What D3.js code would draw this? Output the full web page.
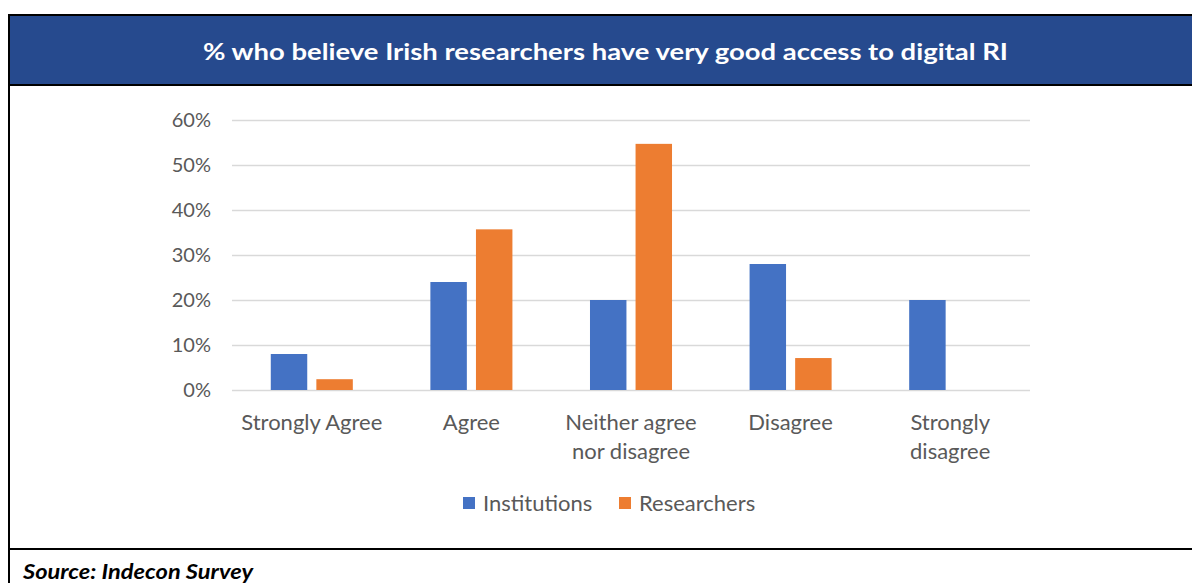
<!DOCTYPE html>
<html>
<head>
<meta charset="utf-8">
<script src="https://cdn.jsdelivr.net/npm/d3@7"></script>
<style>
html,body{margin:0;padding:0;background:#fff;}
svg{display:block;}
text{font-family:Lato,"Open Sans",sans-serif;}
</style>
</head>
<body>
<svg id="chart" width="1192" height="583"></svg>
<script>
const title = "% who believe Irish researchers have very good access to digital RI";
const source = "Source: Indecon Survey";
const categories = ["Strongly Agree", "Agree", "Neither agree nor disagree", "Disagree", "Strongly disagree"];
const categoryLines = [["Strongly Agree"], ["Agree"], ["Neither agree", "nor disagree"], ["Disagree"], ["Strongly", "disagree"]];
const seriesNames = ["Institutions", "Researchers"];
const institutions = [0.08, 0.24, 0.20, 0.28, 0.20];
const researchers = [0.024, 0.357, 0.547, 0.071, 0.0];
const yTicks = [0, 0.1, 0.2, 0.3, 0.4, 0.5, 0.6];
const colors = ["#4472C4", "#ED7D31"];

const svg = d3.select("#chart");

// frame
svg.append("rect").attr("x", 10).attr("y", 16).attr("width", 1182).attr("height", 68).attr("fill", "#264A8E");
svg.append("line").attr("x1", 8).attr("x2", 1192).attr("y1", 15).attr("y2", 15).attr("stroke", "#000").attr("stroke-width", 2);
svg.append("line").attr("x1", 8).attr("x2", 1192).attr("y1", 85).attr("y2", 85).attr("stroke", "#000").attr("stroke-width", 2);
svg.append("line").attr("x1", 8).attr("x2", 1192).attr("y1", 549).attr("y2", 549).attr("stroke", "#000").attr("stroke-width", 2);
svg.append("line").attr("x1", 9).attr("x2", 9).attr("y1", 14).attr("y2", 583).attr("stroke", "#000").attr("stroke-width", 2);

svg.append("text").attr("x", 605.5).attr("y", 60).attr("text-anchor", "middle")
  .attr("fill", "#fff").attr("font-weight", "bold").attr("font-size", 23)
  .attr("textLength", 805).attr("lengthAdjust", "spacingAndGlyphs")
  .text(title);

svg.append("text").attr("x", 23).attr("y", 579).attr("fill", "#000")
  .attr("font-weight", "bold").attr("font-style", "italic").attr("font-size", 20)
  .attr("textLength", 230).attr("lengthAdjust", "spacingAndGlyphs")
  .text(source);

const y = d3.scaleLinear().domain([0, 0.6]).range([390, 120]);
const x0 = d3.scaleBand().domain(categories).range([232, 1030]).paddingInner(0.486).paddingOuter(0.243);
const x1 = d3.scaleBand().domain(seriesNames).range([0, x0.bandwidth()]).paddingInner(0.2).paddingOuter(0);

// gridlines
const yAxis = d3.axisLeft(y).tickValues(yTicks).tickFormat(d3.format(".0%")).tickSize(-(1030 - 232)).tickPadding(21);
const gy = svg.append("g").attr("transform", "translate(232,0)").call(yAxis);
gy.select(".domain").remove();
gy.selectAll(".tick line").attr("stroke", "#d9d9d9").attr("stroke-width", 1.5);
gy.selectAll(".tick text").attr("fill", "#595959").attr("font-size", 20).attr("font-family", "Lato,'Open Sans',sans-serif");

const data = categories.map((c, i) => ({cat: c, vals: [institutions[i], researchers[i]]}));
const groups = svg.append("g").selectAll("g").data(data).join("g")
  .attr("transform", d => `translate(${x0(d.cat)},0)`);
groups.selectAll("rect").data(d => d.vals.map((v, j) => ({name: seriesNames[j], v, j})))
  .join("rect")
  .attr("x", d => x1(d.name))
  .attr("width", x1.bandwidth())
  .attr("y", d => y(d.v))
  .attr("height", d => y(0) - y(d.v))
  .attr("fill", d => colors[d.j]);

// category labels
const cl = svg.append("g").selectAll("text").data(categories).join("text")
  .attr("x", d => x0(d) + x0.bandwidth() / 2)
  .attr("y", 430)
  .attr("text-anchor", "middle")
  .attr("fill", "#595959").attr("font-size", 22);
cl.each(function(d, i) {
  const t = d3.select(this);
  categoryLines[i].forEach((line, k) => {
    t.append("tspan").attr("x", x0(d) + x0.bandwidth() / 2).attr("dy", k === 0 ? 0 : 29).text(line);
  });
});

// legend
const legendX = [463, 619];
const lg = svg.append("g").selectAll("g").data(seriesNames).join("g")
  .attr("transform", (d, i) => `translate(${legendX[i]},497)`);
lg.append("rect").attr("width", 12).attr("height", 12).attr("fill", (d, i) => colors[i]);
lg.append("text").attr("x", 20).attr("y", 14).attr("fill", "#595959").attr("font-size", 22).text(d => d);
</script>
</body>
</html>
